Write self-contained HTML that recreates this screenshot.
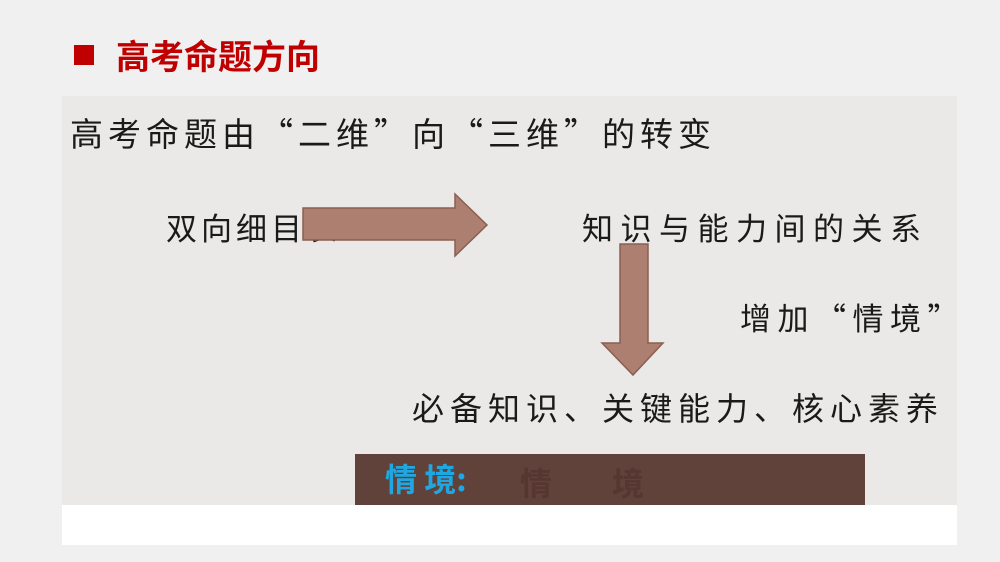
<!DOCTYPE html>
<html><head><meta charset="utf-8"><style>
body{margin:0;width:1000px;height:562px;background:#f0f0f0;position:relative;overflow:hidden;font-family:"Noto Sans CJK SC",sans-serif}
.t{position:absolute;white-space:nowrap;line-height:1;color:#1a1a1a;font-family:"Noto Sans CJK SC",sans-serif}
</style></head><body>
<div style="position:absolute;left:74px;top:45px;width:20px;height:20px;background:#c00000"></div>
<div class="t" style="left:116px;top:38px;font-size:34px;font-weight:bold;color:#c00000">高考命题方向</div>
<div style="position:absolute;left:62px;top:96px;width:895px;height:409px;background:#ebe9e7"></div>
<div style="position:absolute;left:62px;top:505px;width:895px;height:40px;background:#fff"></div>
<div class="t" style="left:70px;top:116px;font-size:33px;letter-spacing:5px">高考命题由“二维”向“三维”的转变</div>
<div class="t" style="left:166px;top:211px;font-size:31px;letter-spacing:4px">双向细目表</div>
<div class="t" style="left:582px;top:211px;font-size:31px;letter-spacing:7.5px">知识与能力间的关系</div>
<div class="t" style="left:740px;top:301px;font-size:31px;letter-spacing:6.5px">增加“情境”</div>
<div class="t" style="left:412px;top:391px;font-size:32px;letter-spacing:6px">必备知识、关键能力、核心素养</div>
<svg style="position:absolute;left:0;top:0" width="1000" height="562">
<polygon points="303,208 455,208 455,194 487,225 455,256 455,240 303,240" fill="#ad7f71" stroke="#8a5f52" stroke-width="1.5"/>
<polygon points="620,244 648,244 648,343 663,343 633,375 602,343 620,343" fill="#ad7f71" stroke="#8a5f52" stroke-width="1.5"/>
</svg>
<div style="position:absolute;left:355px;top:454px;width:510px;height:51px;background:#61423a"></div>
<div class="t" style="left:385px;top:462px;font-size:32px;font-weight:bold;color:#1ea7e0">情 境:</div>
<div class="t" style="left:520px;top:466px;font-size:32px;font-weight:bold;color:#553630">情</div>
<div class="t" style="left:612px;top:466px;font-size:32px;font-weight:bold;color:#553630">境</div>
</body></html>
